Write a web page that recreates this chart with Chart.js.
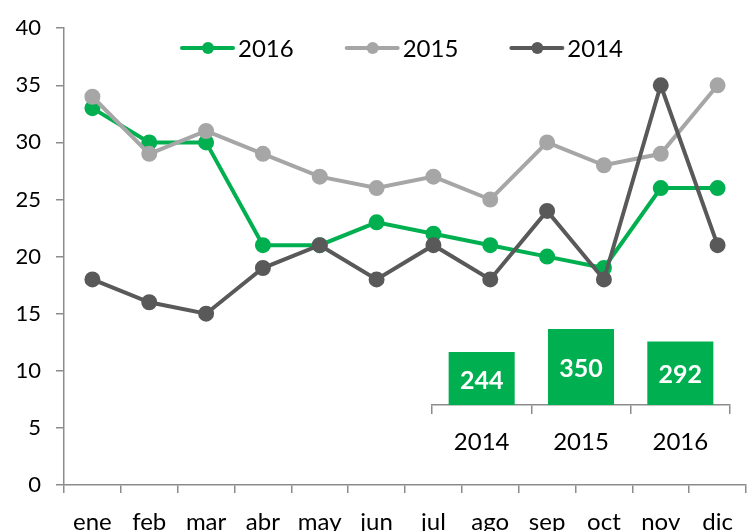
<!DOCTYPE html>
<html>
<head>
<meta charset="utf-8">
<script src="https://cdn.jsdelivr.net/npm/chart.js@4.4.1/dist/chart.umd.min.js"></script>
<style>
  html, body { margin: 0; padding: 0; background: #ffffff; overflow: hidden; }
  #wrap { position: relative; width: 751px; height: 531px; overflow: hidden; }
  #main { position: absolute; left: 0; top: 0; }
  #inset { position: absolute; left: 426px; top: 320px; }
</style>
</head>
<body>
<div id="wrap">
  <canvas id="main" width="756" height="531"></canvas>
  <canvas id="inset" width="310" height="160"></canvas>
</div>
<script>
// ---- data ----
const months = ["ene","feb","mar","abr","may","jun","jul","ago","sep","oct","nov","dic"];
const seriesNames = ["2016", "2015", "2014"];
const values2016 = [33, 30, 30, 21, 21, 23, 22, 21, 20, 19, 26, 26];
const values2015 = [34, 29, 31, 29, 27, 26, 27, 25, 30, 28, 29, 35];
const values2014 = [18, 16, 15, 19, 21, 18, 21, 18, 24, 18, 35, 21];
const yTicks = [0, 5, 10, 15, 20, 25, 30, 35, 40];
const totalYears = ["2014", "2015", "2016"];
const totalValues = [244, 350, 292];

// ---- styles ----
const FONT = "Lato, 'Open Sans', 'DejaVu Sans', sans-serif";
const GREEN = "#00B050";
const LIGHT = "#A6A6A6";
const DARK = "#595959";
const AXIS = "#8c8c8c";

function build() {
  const legendPlugin = {
    id: "insideLegend",
    afterDraw(chart) {
      const ctx = chart.ctx;
      ctx.save();
      ctx.font = "24px " + FONT;
      ctx.textBaseline = "middle";
      ctx.textAlign = "left";
      let x = 182;
      const y = 48;
      chart.data.datasets.forEach(ds => {
        ctx.strokeStyle = ds.borderColor;
        ctx.lineWidth = 4;
        ctx.lineCap = "round";
        ctx.beginPath();
        ctx.moveTo(x, y);
        ctx.lineTo(x + 51, y);
        ctx.stroke();
        ctx.fillStyle = ds.borderColor;
        ctx.beginPath();
        ctx.arc(x + 26, y, 6, 0, Math.PI * 2);
        ctx.fill();
        ctx.fillStyle = "#000";
        ctx.fillText(ds.label, x + 56, y + 1);
        x += 56 + ctx.measureText(ds.label).width + 53;
      });
      ctx.restore();
    }
  };

  const mkSet = (label, data, color, order) => ({
    label, data, order,
    borderColor: color, backgroundColor: color,
    pointBackgroundColor: color, pointBorderColor: color,
    borderWidth: 4, pointRadius: 6, pointHoverRadius: 6,
    tension: 0, fill: false
  });

  new Chart(document.getElementById("main"), {
    type: "line",
    data: {
      labels: months,
      datasets: [
        mkSet(seriesNames[0], values2016, GREEN, 3),
        mkSet(seriesNames[1], values2015, LIGHT, 2),
        mkSet(seriesNames[2], values2014, DARK, 1)
      ]
    },
    options: {
      responsive: false,
      animation: false,
      layout: { padding: { top: 25, left: 0, right: 0, bottom: 0 } },
      plugins: { legend: { display: false }, tooltip: { enabled: false } },
      scales: {
        x: {
          type: "category",
          offset: true,
          grid: { offset: true, drawOnChartArea: false, tickLength: 8, color: AXIS, lineWidth: 1.5 },
          border: { display: true, color: AXIS, width: 1.5 },
          ticks: { color: "#000", font: { family: FONT, size: 24 }, padding: 15, maxRotation: 0, autoSkip: false },
          afterFit(s) { s.height = 46; }
        },
        y: {
          min: 0, max: 40,
          afterBuildTicks(s) { s.ticks = yTicks.map(v => ({ value: v })); },
          grid: { drawOnChartArea: false, tickLength: 8, color: AXIS, lineWidth: 1.5 },
          border: { display: true, color: AXIS, width: 1.5 },
          ticks: { color: "#000", font: { family: FONT, size: 22 }, padding: 15 },
          afterFit(s) { s.width = 64; }
        }
      }
    },
    plugins: [legendPlugin]
  });

  const valueLabels = {
    id: "valueLabels",
    afterDatasetsDraw(chart) {
      const ctx = chart.ctx;
      ctx.save();
      ctx.font = "bold 25px " + FONT;
      ctx.fillStyle = "#ffffff";
      ctx.textAlign = "center";
      ctx.textBaseline = "middle";
      const meta = chart.getDatasetMeta(0);
      meta.data.forEach((bar, i) => {
        const v = chart.data.datasets[0].data[i];
        ctx.fillText(String(v), bar.x, (bar.y + bar.base) / 2 + 2);
      });
      ctx.restore();
    }
  };

  new Chart(document.getElementById("inset"), {
    type: "bar",
    data: {
      labels: totalYears,
      datasets: [{
        label: "Total",
        data: totalValues,
        backgroundColor: GREEN,
        borderWidth: 0,
        categoryPercentage: 1,
        barPercentage: 0.665
      }]
    },
    options: {
      responsive: false,
      animation: false,
      layout: { padding: { top: 9, left: 6, right: 6, bottom: 0 } },
      plugins: { legend: { display: false }, tooltip: { enabled: false } },
      scales: {
        x: {
          offset: true,
          grid: { offset: true, drawOnChartArea: false, tickLength: 9, color: AXIS, lineWidth: 1.5 },
          border: { display: true, color: AXIS, width: 1.5 },
          ticks: { color: "#000", font: { family: FONT, size: 24 }, padding: 14, maxRotation: 0 },
          afterFit(s) { s.height = 75; }
        },
        y: { display: false, min: 0, max: 350 }
      }
    },
    plugins: [valueLabels]
  });
}

const fontReady = document.fonts && document.fonts.load
  ? Promise.race([
      Promise.all([document.fonts.load("22px Lato"), document.fonts.load("bold 25px Lato")]),
      new Promise(r => setTimeout(r, 800))
    ])
  : Promise.resolve();
fontReady.then(build, build);
</script>
</body>
</html>
